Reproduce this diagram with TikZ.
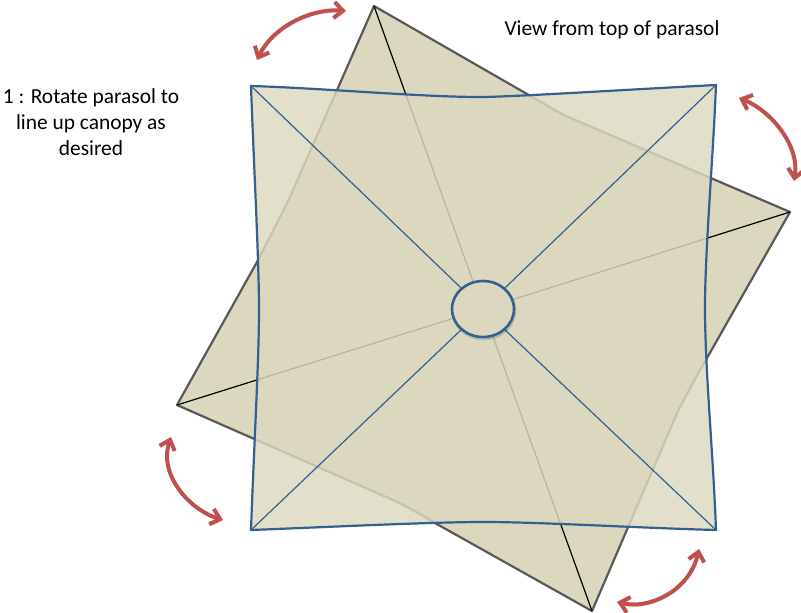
\documentclass[tikz,border=0pt]{standalone}
\usepackage{fontspec}
\setmainfont{Carlito}
\usetikzlibrary{arrows.meta,shapes.geometric}
\definecolor{canopy}{HTML}{DCD8C0}
\definecolor{backedge}{HTML}{595959}
\definecolor{frontedge}{HTML}{34608F}
\definecolor{rotred}{HTML}{C0504D}
\tikzset{
  backsheet/.style={draw=backedge,line width=2.2pt,line join=round,fill=canopy},
  frontsheet/.style={draw=none,fill=canopy,fill opacity=.83},
  frontline/.style={draw=frontedge,line width=2.2pt,line join=round},
  backspoke/.style={draw=black,line width=1.2pt},
  frontspoke/.style={draw=frontedge,line width=1.2pt},
  hubring/.style={ellipse,draw=frontedge,fill=canopy,line width=2.6pt,inner sep=0pt,minimum width=62pt,minimum height=56pt,
    preaction={draw=black,draw opacity=.14,transform canvas={shift={(1pt,-2pt)}}}},
  hubmark/.style={ellipse,inner sep=0pt,minimum width=62pt,minimum height=56pt},
  rotarrow/.style={draw=rotred,line width=4pt,line cap=round,
    {Straight Barb[length=9pt,width=16pt]}-{Straight Barb[length=9pt,width=16pt]},
    preaction={draw=black,draw opacity=.14,transform canvas={shift={(1pt,-2pt)}}}},
  caption/.style={font=\fontsize{21.4}{26}\selectfont,align=center,inner sep=0pt}
}
\begin{document}
\begin{tikzpicture}[x=1pt,y=-1pt]
\useasboundingbox (0,0) rectangle (801,613);
\coordinate (A) at (374,6);
\coordinate (B) at (790,212);
\coordinate (C) at (592,611);
\coordinate (D) at (177,405);
\coordinate (E) at (251,86);
\coordinate (F) at (716,85);
\coordinate (G) at (716,530);
\coordinate (H) at (251,530);
\node[hubmark] (hubpos) at (483,309) {};
% rotated canopy
\draw[backsheet] (A) -- (527,94) .. controls (545,104) and (558,113) .. (573,119) -- (B)
  -- (707,358) .. controls (697,375) and (688,392) .. (678,411) -- (C)
  -- (435,523) .. controls (422,515) and (408,507) .. (393,500) -- (D)
  -- (257,262) .. controls (268,240) and (280,218) .. (290,197) -- cycle;
\draw[backspoke] (A) -- (hubpos);
\draw[backspoke] (B) -- (hubpos);
\draw[backspoke] (C) -- (hubpos);
\draw[backspoke] (D) -- (hubpos);
% upper canopy
\path[frontsheet] (E) .. controls (320,88) and (420,97) .. (480,97)
  .. controls (510,97) and (620,90) .. (F)
  .. controls (713,160) and (705,250) .. (705,308)
  .. controls (705,370) and (713,450) .. (G)
  .. controls (640,528) and (540,522) .. (484,522)
  .. controls (430,522) and (330,527) .. (H)
  .. controls (254,445) and (259,360) .. (259,310)
  .. controls (259,260) and (254,170) .. (E) -- cycle;
\draw[frontline] (E) .. controls (320,88) and (420,97) .. (480,97)
  .. controls (510,97) and (620,90) .. (F)
  .. controls (713,160) and (705,250) .. (705,308)
  .. controls (705,370) and (713,450) .. (G)
  .. controls (640,528) and (540,522) .. (484,522)
  .. controls (430,522) and (330,527) .. (H)
  .. controls (254,445) and (259,360) .. (259,310)
  .. controls (259,260) and (254,170) .. (E) -- cycle;
\draw[frontspoke] (E) -- (hubpos);
\draw[frontspoke] (F) -- (hubpos);
\draw[frontspoke] (G) -- (hubpos);
\draw[frontspoke] (H) -- (hubpos);
\node[hubring] (hub) at (hubpos) {};
% rotation arrows
\coordinate (a1) at (257,60);
\coordinate (a2) at (346,11);
\coordinate (b1) at (739,98);
\coordinate (b2) at (794,181);
\coordinate (c1) at (171,437);
\coordinate (c2) at (223,520);
\coordinate (d1) at (617,602);
\coordinate (d2) at (699,549);
\draw[rotarrow] (a1) .. controls (272,28) and (310,8) .. (a2);
\draw[rotarrow] (b1) .. controls (770,110) and (800,145) .. (b2);
\draw[rotarrow] (c1) .. controls (158,475) and (190,510) .. (c2);
\draw[rotarrow] (d1) .. controls (650,610) and (690,590) .. (d2);
% labels
\node[caption] (note) at (91,122) {1 : Rotate parasol to\\line up canopy as\\desired};
\node[caption] (view) at (612,30) {View from top of parasol};
\end{tikzpicture}
\end{document}
